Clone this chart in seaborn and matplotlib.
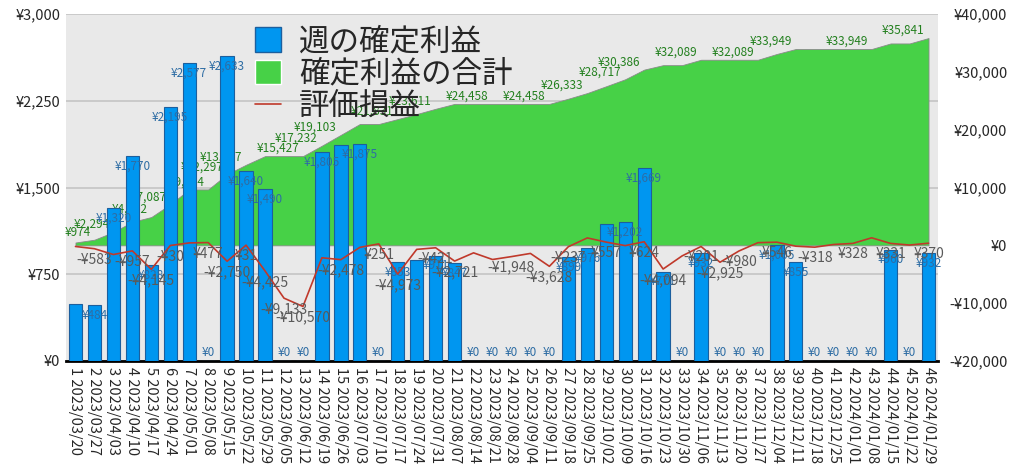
import numpy as np
import pandas as pd
import seaborn as sns
import matplotlib.pyplot as plt
from matplotlib.patches import Patch
from matplotlib.lines import Line2D
from matplotlib.ticker import FuncFormatter

# week labels
weeks = ['1 2023/03/20', '2 2023/03/27', '3 2023/04/03', '4 2023/04/10', '5 2023/04/17',
         '6 2023/04/24', '7 2023/05/01', '8 2023/05/08', '9 2023/05/15', '10 2023/05/22',
         '11 2023/05/29', '12 2023/06/05', '13 2023/06/12', '14 2023/06/19', '15 2023/06/26',
         '16 2023/07/03', '17 2023/07/10', '18 2023/07/17', '19 2023/07/24', '20 2023/07/31',
         '21 2023/08/07', '22 2023/08/14', '23 2023/08/21', '24 2023/08/28', '25 2023/09/04',
         '26 2023/09/11', '27 2023/09/18', '28 2023/09/25', '29 2023/10/02', '30 2023/10/09',
         '31 2023/10/16', '32 2023/10/23', '33 2023/10/30', '34 2023/11/06', '35 2023/11/13',
         '36 2023/11/20', '37 2023/11/27', '38 2023/12/04', '39 2023/12/11', '40 2023/12/18',
         '41 2023/12/25', '42 2024/01/01', '43 2024/01/08', '44 2024/01/15', '45 2024/01/22',
         '46 2024/01/29']

# 週の確定利益 (left axis)
weekly_profit = [490, 484, 1320, 1770, 828, 2195, 2577, 0, 2633, 1640,
                 1490, 0, 0, 1805, 1871, 1875, 0, 853, 869, 911,
                 847, 0, 0, 0, 0, 0, 899, 976, 1182, 1202,
                 1669, 771, 0, 932, 0, 0, 0, 1005, 855, 0,
                 0, 0, 0, 960, 0, 932]

# 確定利益の合計 (right axis)
total_profit = [490, 974, 2294, 4064, 4892, 7087, 9664, 9664, 12297, 13937,
                15427, 15427, 15427, 17232, 19103, 20978, 20978, 21831, 22700, 23611,
                24458, 24458, 24458, 24458, 24458, 24458, 25357, 26333, 27515, 28717,
                30386, 31157, 31157, 32089, 32089, 32089, 32089, 33094, 33949, 33949,
                33949, 33949, 33949, 34909, 34909, 35841]

# 評価損益 (right axis)
unrealized = [-200, -583, -1590, -957, -4145, -30, 420, 477, -2750, 31,
              -4425, -9133, -10570, -2150, -2478, -350, 251, -4973, -700, -421,
              -2721, -1300, -2450, -1948, -1400, -3628, -237, 1280, 557, -50,
              624, -4094, -1830, -201, -2925, -980, 460, 546, -150, -318,
              150, 328, 1300, 331, 50, 370]

# which weeks show a value label in the reference
bar_label_weeks = [w for w in range(1, 47) if w not in (1, 15, 19, 29)]
total_label_weeks = [2, 3, 5, 6, 8, 9, 10, 13, 14, 15, 18, 20, 23, 26, 28, 30, 31,
                     34, 37, 39, 43, 46]
unreal_label_weeks = [2, 4, 5, 6, 8, 9, 10, 11, 12, 13, 15, 17, 18, 20, 21, 24, 26,
                      27, 29, 31, 32, 34, 35, 36, 38, 40, 42, 44, 46]

left_ticks = [0, 750, 1500, 2250, 3000]
right_ticks = [-20000, -10000, 0, 10000, 20000, 30000, 40000]

BLUE = '#0096f0'
GREEN = '#47d147'
RED = '#c0392b'

sns.set_style("white")
plt.rcParams['font.family'] = ['Noto Sans CJK JP', 'DejaVu Sans']


def yen(v, pos=None):
    v = int(round(v))
    return f"-¥{abs(v):,}" if v < 0 else f"¥{v:,}"


df = pd.DataFrame({'pos': np.arange(len(weeks)), 'week': weeks, 'profit': weekly_profit,
                   'total': total_profit, 'unreal': unrealized})
x = df['pos'].values

fig = plt.figure(figsize=(10.24, 4.76), dpi=100)
ax = fig.add_axes([66 / 1024, 1 - 361 / 476, (938 - 66) / 1024, (361 - 14) / 476])
ax.set_facecolor('#e9e9e9')
ax.set_ylim(0, 3000)
ax.set_yticks(left_ticks)
ax.yaxis.set_major_formatter(FuncFormatter(yen))
ax.grid(axis='y', color='#c4c4c4', lw=1.2)
ax.set_axisbelow(True)

# cumulative area
ax_area = ax.twinx()
ax_area.fill_between(x, 0, df['total'], color=GREEN, edgecolor='#8a8a8a', lw=0.6)
ax_area.set_ylim(-20000, 40000)
ax_area.set_yticks(right_ticks)
ax_area.yaxis.set_major_formatter(FuncFormatter(yen))
for w in total_label_weeks:
    i = w - 1
    ax_area.annotate(yen(total_profit[i]), (x[i], total_profit[i]), xytext=(-4, 1),
                     textcoords='offset pixels', ha='right', va='bottom',
                     fontsize=8.5, color='#23801f')

# weekly bars
ax_bar = ax.twinx()
sns.barplot(data=df, x='pos', y='profit', color=BLUE, saturation=1, width=0.7,
            edgecolor='#1c5f9e', linewidth=0.8, ax=ax_bar)
ax_bar.set_ylim(0, 3000)
ax_bar.set_xlabel('')
ax_bar.set_ylabel('')
ax_bar.tick_params(right=False, labelright=False)
for w in bar_label_weeks:
    i = w - 1
    v = weekly_profit[i]
    ax_bar.annotate(yen(v), (x[i], v), xytext=(0, -10 if v > 0 else 9),
                    textcoords='offset pixels', ha='center', va='center',
                    fontsize=8.5, color='#2e6da4')

# unrealized line
ax_line = ax.twinx()
sns.lineplot(data=df, x='pos', y='unreal', color=RED, lw=1.2, ax=ax_line)
ax_line.set_ylim(-20000, 40000)
ax_line.set_xlabel('')
ax_line.set_ylabel('')
ax_line.tick_params(right=False, labelright=False)
for w in unreal_label_weeks:
    i = w - 1
    ax_line.annotate(yen(unrealized[i]), (x[i], unrealized[i]), xytext=(0, -11),
                     textcoords='offset pixels', ha='center', va='center',
                     fontsize=10, color='#5a5a5a')

for a in (ax, ax_area, ax_bar, ax_line):
    for s in a.spines.values():
        s.set_visible(False)
ax.spines['bottom'].set_visible(True)
ax.spines['bottom'].set_color('black')
ax.spines['bottom'].set_linewidth(2)

ax.set_xlim(-0.5, len(weeks) - 0.5)
ax.set_xticks(x)
ax.set_xticklabels(weeks, rotation=-90, fontsize=10.5)
ax.tick_params(axis='x', length=0, pad=4)
ax.tick_params(axis='y', length=0, pad=4, labelsize=10.5)
ax_area.tick_params(axis='y', length=0, pad=50, labelsize=10.5)
for lbl in ax_area.get_yticklabels():
    lbl.set_ha('right')

handles = [Patch(facecolor=BLUE, edgecolor='#1c5f9e'),
           Patch(facecolor=GREEN),
           Line2D([], [], color=RED, lw=1.2)]
ax_line.legend(handles, ['週の確定利益', '確定利益の合計', '評価損益'],
               loc='upper left', bbox_to_anchor=(255 / 1024, 1 - 26 / 476),
               bbox_transform=fig.transFigure, frameon=False, fontsize=22,
               handlelength=0.85, handleheight=0.85, handletextpad=0.6,
               labelspacing=0.05, borderpad=0, borderaxespad=0)

fig.savefig('out.png', dpi=100)
